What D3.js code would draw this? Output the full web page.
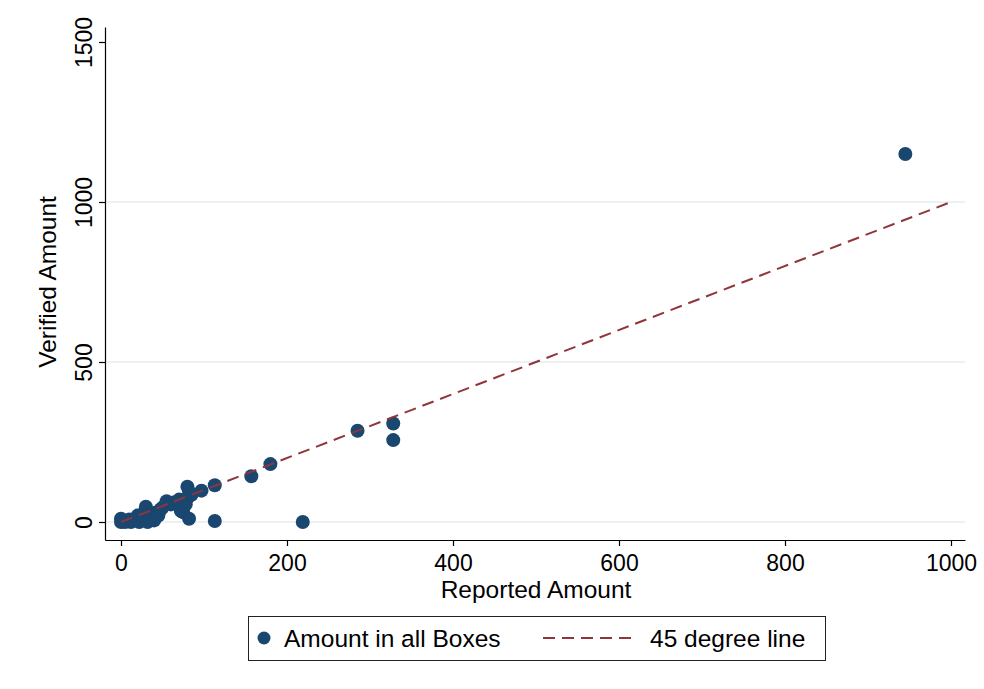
<!DOCTYPE html>
<html>
<head>
<meta charset="utf-8">
<script src="https://cdn.jsdelivr.net/npm/d3@7"></script>
<style>
  body { margin: 0; background: #fff; }
  text { font-family: "Liberation Sans", Arial, sans-serif; }
</style>
</head>
<body>
<svg id="chart"></svg>
<script>
// reported amount (x) and verified amount (y) per box
const reported = [0, 0, 2, 5, 8, 10, 12, 15, 18, 20, 22, 25, 28, 30, 32, 35, 38, 40, 42, 45,
  48, 50, 55, 60, 62, 65, 70, 72, 75, 78, 80, 80, 82, 82, 85, 97, 113, 113, 157, 180,
  219, 285, 328, 328, 945];
const verified = [0, 10, 2, 0, 3, 8, 0, 5, 12, 20, 0, 15, 30, 48, 0, 10, 25, 5, 30, 20,
  40, 45, 65, 55, 60, 62, 70, 35, 30, 55, 75, 110, 95, 10, 85, 98, 115, 3, 143, 181,
  0, 285, 308, 256, 1150];
const xTicks = [0, 200, 400, 600, 800, 1000];
const yTicks = [0, 500, 1000, 1500];
const gridTicks = [0, 500, 1000];
const lineEnds = [0, 1000];
const legendLabels = ['Amount in all Boxes', '45 degree line'];

const width = 984, height = 689;
const navy = '#1a476f', maroon = '#90353b';

const svg = d3.select('#chart').attr('width', width).attr('height', height);

const x = d3.scaleLinear().domain([-19.28, 1016.87]).range([105, 965]);
const y = d3.scaleLinear().domain([-56.25, 1546.875]).range([540, 27]);

// grid lines
svg.append('g').selectAll('line').data(gridTicks).join('line')
  .attr('x1', 105).attr('x2', 965)
  .attr('y1', d => y(d)).attr('y2', d => y(d))
  .attr('stroke', '#e6eef0').attr('stroke-width', 1.5);

// points
const pts = reported.map((r, i) => ({ r, v: verified[i] }));
svg.append('g').selectAll('circle').data(pts).join('circle')
  .attr('cx', d => x(d.r)).attr('cy', d => y(d.v))
  .attr('r', 7).attr('fill', navy);

// 45 degree line
svg.append('line')
  .attr('x1', x(lineEnds[0])).attr('y1', y(lineEnds[0]))
  .attr('x2', x(lineEnds[1])).attr('y2', y(lineEnds[1]))
  .attr('stroke', maroon).attr('stroke-width', 2)
  .attr('stroke-dasharray', '12,7');

// axes
const fmt = d3.format('d');
const xAxis = svg.append('g').attr('transform', 'translate(0,540)')
  .call(d3.axisBottom(x).tickValues(xTicks).tickFormat(fmt).tickSize(6).tickSizeOuter(0).tickPadding(9));
const yAxis = svg.append('g').attr('transform', 'translate(105,0)')
  .call(d3.axisLeft(y).tickValues(yTicks).tickFormat(fmt).tickSize(6).tickSizeOuter(0));

[xAxis, yAxis].forEach(a => {
  a.select('.domain').attr('stroke', '#000').attr('stroke-width', 1.2);
  a.selectAll('.tick line').attr('stroke', '#000').attr('stroke-width', 1.2);
  a.selectAll('.tick text').attr('font-size', 23).attr('fill', '#000')
    .attr('font-family', '"Liberation Sans", Arial, sans-serif');
});
yAxis.selectAll('.tick text')
  .attr('transform', 'rotate(-90)')
  .attr('text-anchor', 'middle')
  .attr('x', 0).attr('dx', null)
  .attr('y', -13).attr('dy', null);

// axis titles
svg.append('text').attr('x', 536).attr('y', 598)
  .attr('text-anchor', 'middle').attr('font-size', 24.5).text('Reported Amount');
svg.append('text').attr('transform', 'translate(56,282) rotate(-90)')
  .attr('text-anchor', 'middle').attr('font-size', 24.5).text('Verified Amount');

// legend
const lg = svg.append('g');
lg.append('rect').attr('x', 248.5).attr('y', 616.5).attr('width', 577).attr('height', 44)
  .attr('fill', '#fff').attr('stroke', '#222').attr('stroke-width', 1);
lg.append('circle').attr('cx', 264).attr('cy', 638).attr('r', 6.5).attr('fill', navy);
lg.append('text').attr('x', 284).attr('y', 647).attr('font-size', 24.5).text(legendLabels[0]);
lg.append('line').attr('x1', 543).attr('x2', 632).attr('y1', 638).attr('y2', 638)
  .attr('stroke', maroon).attr('stroke-width', 2).attr('stroke-dasharray', '12,7');
lg.append('text').attr('x', 650).attr('y', 647).attr('font-size', 24.5).text(legendLabels[1]);
</script>
</body>
</html>
